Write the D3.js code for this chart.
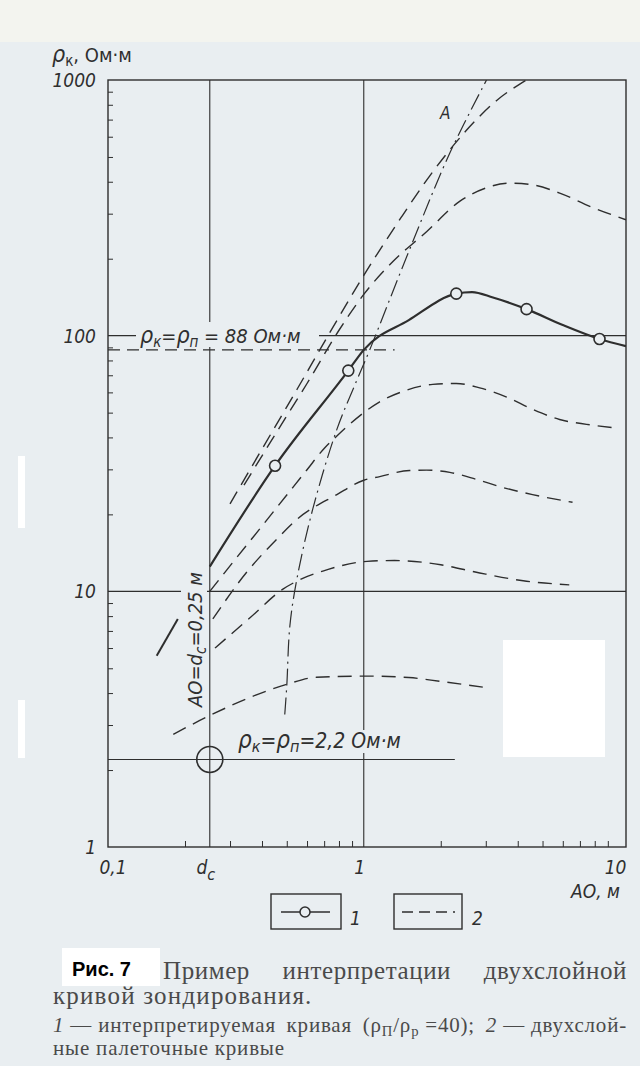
<!DOCTYPE html>
<html>
<head>
<meta charset="utf-8">
<script src="https://cdn.jsdelivr.net/npm/d3@7"></script>
<style>
body { margin: 0; background: #e9eef1; }
svg { display: block; }
.lbl { font-family: "Liberation Sans Narrow", "DejaVu Sans Condensed", "Liberation Sans", sans-serif; font-stretch: condensed; font-style: italic; fill: #2f2f2f; }
.cap { font-family: "Liberation Serif", "DejaVu Serif", serif; fill: #4a4a4a; }
</style>
</head>
<body>
<script>

// interpreted sounding curve (1) and its marked points
var curve1 = [[0.25, 12.5], [0.45, 31], [0.87, 73], [1.0, 88], [1.5, 115], [2.3, 146], [2.65, 148],
	[3.2, 141], [4.33, 127], [6.0, 110], [8.35, 97], [10.6, 91]];
var curve1Marks = [[0.45, 31], [0.87, 73], [2.3, 146], [4.33, 127], [8.35, 97]];
var curve1Tail = [[0.155, 5.6], [0.1875, 7.8]];

// two-layer palette curves (2)
var palTop = [[0.30, 22], [0.4, 36], [0.55, 62], [0.75, 106], [1.0, 172], [1.4, 290], [1.8, 418],
	[2.5, 630], [3.3, 830], [4.33, 1000]];
var pal380 = [[0.34, 26], [0.45, 41], [0.6, 65], [0.8, 105], [1.0, 145], [1.3, 195], [1.76, 255],
	[2.37, 335], [3.0, 378], [3.7, 395], [4.5, 390], [5.8, 362], [7.8, 318], [10.6, 284]];
var pal65 = [[0.25, 10], [0.31, 13.1], [0.4, 18], [0.5, 23.8], [0.6, 29.9], [0.7, 36.2], [0.785, 40.5],
	[1.0, 50], [1.15, 55], [1.42, 60.5], [1.86, 64.5], [2.3, 65], [2.84, 62.5], [3.62, 57.5],
	[4.57, 51.5], [5.83, 47], [7.43, 45], [9.4, 43.7]];
var pal30 = [[0.257, 7.8], [0.349, 11.9], [0.457, 16], [0.547, 19.1], [0.785, 23.9], [1.0, 27.2],
	[1.155, 28.1], [1.51, 29.7], [1.76, 29.8], [2.17, 29.2], [2.76, 27.4], [3.49, 25.5], [4.57, 23.9], [6.55, 22.3]];
var pal13 = [[0.262, 6.0], [0.36, 7.9], [0.483, 10.2], [0.562, 11.1], [0.692, 12], [1.03, 13.1],
	[1.32, 13.2], [2.0, 12.7], [2.84, 11.8], [4.2, 11.0], [6.36, 10.6]];
var pal5 = [[0.18, 2.76], [0.252, 3.28], [0.36, 3.85], [0.5, 4.33], [0.653, 4.61], [1.02, 4.66],
	[1.5, 4.6], [1.98, 4.45], [2.92, 4.22]];
var palettes = [palTop, pal380, pal65, pal30, pal13, pal5];

// locus line through point A (dash-dot)
var lineA = [[0.491, 3.3], [0.5, 4.26], [0.514, 7.3], [0.547, 11.1], [0.632, 21], [0.785, 43],
	[0.94, 67], [1.055, 88], [1.51, 217], [2.17, 518], [3.02, 1000]];

var dc = 0.25;
var rhoTop = 88, rhoTopTo = 1.32;
var rhoBase = 2.2, rhoBaseTo = 2.27;

var yTicks = [1, 10, 100, 1000];
var xTicks = [0.1, 0.25, 1, 10];
var gridX = [0.25, 1];
var gridY = [10, 100];

var width = 640,
	height = 1066,
	bg = "#e9eef1",
	ink = "#2e2e2e";

var svg = d3.select("body").append("svg")
	.attr("width", width)
	.attr("height", height);

svg.append("rect").attr("width", width).attr("height", height).attr("fill", bg);
svg.append("rect").attr("width", width).attr("height", 42).attr("fill", "#f3f4ef");
// scan patches
svg.append("rect").attr("x", 503).attr("y", 640).attr("width", 102).attr("height", 117).attr("fill", "#fff");
svg.append("rect").attr("x", 18).attr("y", 456).attr("width", 7).attr("height", 72).attr("fill", "#fff");
svg.append("rect").attr("x", 18).attr("y", 700).attr("width", 7).attr("height", 58).attr("fill", "#fff");

var x = d3.scaleLog().domain([0.1, 10.6]).range([108, 626]);
var y = d3.scaleLog().domain([1, 1000]).range([847, 80]);

svg.append("clipPath").attr("id", "plot")
	.append("rect")
	.attr("x", x(0.1)).attr("y", y(1000))
	.attr("width", x(10.6) - x(0.1)).attr("height", y(1) - y(1000));

// grid
svg.selectAll(".gx").data(gridX).enter().append("line")
	.attr("x1", function(d) { return x(d); }).attr("x2", function(d) { return x(d); })
	.attr("y1", y(1)).attr("y2", y(1000))
	.attr("stroke", ink).attr("stroke-width", 1.1);
svg.selectAll(".gy").data(gridY).enter().append("line")
	.attr("x1", x(0.1)).attr("x2", x(10.6))
	.attr("y1", function(d) { return y(d); }).attr("y2", function(d) { return y(d); })
	.attr("stroke", ink).attr("stroke-width", 1.1);

svg.append("line")
	.attr("x1", x(0.1)).attr("x2", x(rhoBaseTo))
	.attr("y1", y(rhoBase)).attr("y2", y(rhoBase))
	.attr("stroke", ink).attr("stroke-width", 1.1);
svg.append("line")
	.attr("x1", x(0.1)).attr("x2", x(rhoTopTo))
	.attr("y1", y(rhoTop)).attr("y2", y(rhoTop))
	.attr("stroke", ink).attr("stroke-width", 1.1)
	.attr("stroke-dasharray", "12,7");

// frame
svg.append("rect")
	.attr("x", x(0.1)).attr("y", y(1000))
	.attr("width", x(10.6) - x(0.1)).attr("height", y(1) - y(1000))
	.attr("fill", "none").attr("stroke", ink).attr("stroke-width", 1.4);

// minor ticks, pointing inwards
var yMinor = y.ticks().filter(function(d) { return yTicks.indexOf(d) < 0; });
svg.append("g")
	.attr("transform", "translate(" + x(0.1) + ",0)")
	.call(d3.axisRight(y).tickValues(yMinor).tickSize(5).tickFormat(""))
	.call(function(g) { g.select(".domain").remove(); g.selectAll("line").attr("stroke", ink); });

var xMinor = x.ticks().filter(function(d) { return [0.1, 1, 10].indexOf(d) < 0; });
svg.append("g")
	.attr("transform", "translate(0," + y(1) + ")")
	.call(d3.axisTop(x).tickValues(xMinor).tickSize(6).tickFormat(""))
	.call(function(g) { g.select(".domain").remove(); g.selectAll("line").attr("stroke", ink); });

// tick labels
svg.selectAll(".yl").data(yTicks).enter().append("text")
	.attr("class", "lbl")
	.attr("x", 96).attr("y", function(d) { return y(d) + 7; })
	.attr("text-anchor", "end")
	.style("font-size", "19px")
	.text(function(d) { return d; });

var xl = svg.selectAll(".xl").data(xTicks).enter().append("text")
	.attr("class", "lbl")
	.attr("x", function(d) { return x(d) + (d === 0.1 ? 5 : -4); })
	.attr("y", y(1) + 27)
	.attr("text-anchor", "middle")
	.style("font-size", "19px");
xl.filter(function(d) { return d !== dc; }).text(function(d) { return String(d).replace(".", ","); });
var dl = xl.filter(function(d) { return d === dc; });
dl.append("tspan").text("d");
dl.append("tspan").attr("dy", 6).style("font-size", "16px").text("c");

// axis titles
var yt = svg.append("text").attr("class", "lbl").attr("x", 52).attr("y", 62).style("font-size", "20px");
yt.append("tspan").style("font-size", "23px").text("ρ");
yt.append("tspan").attr("dy", 4).style("font-size", "15px").style("font-style", "normal").text("к");
yt.append("tspan").attr("dy", -4).style("font-style", "normal").text(", Ом·м");

svg.append("text").attr("class", "lbl")
	.attr("x", x(10.6) - 6).attr("y", 898)
	.attr("text-anchor", "end")
	.style("font-size", "19px")
	.text("АО, м");

// palette curves
var line = d3.line()
	.x(function(d) { return x(d[0]); })
	.y(function(d) { return y(d[1]); })
	.curve(d3.curveMonotoneX);

var plot = svg.append("g").attr("clip-path", "url(#plot)");

plot.selectAll(".pal").data(palettes).enter().append("path")
	.attr("d", line)
	.attr("fill", "none").attr("stroke", ink).attr("stroke-width", 1.4)
	.attr("stroke-dasharray", "14,8");

plot.append("path").datum(lineA)
	.attr("d", line.curve(d3.curveCatmullRom.alpha(0.5)))
	.attr("fill", "none").attr("stroke", ink).attr("stroke-width", 1.2)
	.attr("stroke-dasharray", "17,5,2,5");
line.curve(d3.curveMonotoneX);

plot.append("path").datum(curve1Tail)
	.attr("d", line)
	.attr("fill", "none").attr("stroke", ink).attr("stroke-width", 2);

plot.append("path").datum(curve1)
	.attr("d", line)
	.attr("fill", "none").attr("stroke", ink).attr("stroke-width", 2.2);

plot.selectAll(".mk").data(curve1Marks).enter().append("circle")
	.attr("cx", function(d) { return x(d[0]); })
	.attr("cy", function(d) { return y(d[1]); })
	.attr("r", 5.5)
	.attr("fill", bg).attr("stroke", ink).attr("stroke-width", 1.6);

svg.append("circle")
	.attr("cx", x(dc)).attr("cy", y(rhoBase)).attr("r", 13)
	.attr("fill", "none").attr("stroke", ink).attr("stroke-width", 1.6);

// annotations with a patch of paper behind them
function note(px, py, w, h) {
	svg.append("rect").attr("x", px).attr("y", py).attr("width", w).attr("height", h).attr("fill", bg);
}

note(136, 322, 183, 25);
var t88 = svg.append("text").attr("class", "lbl").attr("x", 140).attr("y", 343).style("font-size", "20px");
t88.append("tspan").style("font-size", "23px").text("ρ");
t88.append("tspan").attr("dy", 4).style("font-size", "15px").text("к");
t88.append("tspan").attr("dy", -4).text("=");
t88.append("tspan").style("font-size", "23px").text("ρ");
t88.append("tspan").attr("dy", 4).style("font-size", "15px").text("п");
t88.append("tspan").attr("dy", -4).text(" = 88 Ом·м");

note(234, 730, 180, 23);
var t22 = svg.append("text").attr("class", "lbl").attr("x", 238).attr("y", 748).style("font-size", "21px");
t22.append("tspan").style("font-size", "24px").text("ρ");
t22.append("tspan").attr("dy", 4).style("font-size", "16px").text("к");
t22.append("tspan").attr("dy", -4).text("=");
t22.append("tspan").style("font-size", "24px").text("ρ");
t22.append("tspan").attr("dy", 4).style("font-size", "16px").text("п");
t22.append("tspan").attr("dy", -4).text("=2,2 Ом·м");

note(181, 570, 26, 140);
var tdc = svg.append("text").attr("class", "lbl")
	.attr("transform", "translate(202,707) rotate(-90)")
	.style("font-size", "20px");
tdc.append("tspan").text("АО=d");
tdc.append("tspan").attr("dy", 4).style("font-size", "15px").text("с");
tdc.append("tspan").attr("dy", -4).text("=0,25 м");

svg.append("text").attr("class", "lbl")
	.attr("x", 440).attr("y", 119)
	.style("font-size", "17px")
	.text("A");

// legend
var lg = svg.append("g");
lg.append("rect").attr("x", 271).attr("y", 894).attr("width", 70).attr("height", 35)
	.attr("fill", "none").attr("stroke", ink).attr("stroke-width", 1.4);
lg.append("line").attr("x1", 281).attr("x2", 330).attr("y1", 912).attr("y2", 912)
	.attr("stroke", ink).attr("stroke-width", 1.6);
lg.append("circle").attr("cx", 305).attr("cy", 912).attr("r", 5)
	.attr("fill", bg).attr("stroke", ink).attr("stroke-width", 1.5);
lg.append("text").attr("class", "lbl").attr("x", 350).attr("y", 925).style("font-size", "19px").text("1");

lg.append("rect").attr("x", 394).attr("y", 894).attr("width", 68).attr("height", 35)
	.attr("fill", "none").attr("stroke", ink).attr("stroke-width", 1.4);
lg.append("line").attr("x1", 402).attr("x2", 455).attr("y1", 912).attr("y2", 912)
	.attr("stroke", ink).attr("stroke-width", 1.3).attr("stroke-dasharray", "11,6");
lg.append("text").attr("class", "lbl").attr("x", 472).attr("y", 925).style("font-size", "19px").text("2");

// caption
svg.append("rect").attr("x", 62).attr("y", 948).attr("width", 98).attr("height", 38).attr("fill", "#fff");
svg.append("text")
	.attr("x", 72).attr("y", 976)
	.style("font-family", "'Liberation Sans', Arial, sans-serif")
	.style("font-weight", "bold").style("font-size", "20px").attr("fill", "#000")
	.text("Рис. 7");

// a justified caption line: pieces spread evenly between left and right
function capLine(pieces, left, right, py, size, spacing) {
	var nodes = pieces.map(function(p) {
		var t = svg.append("text").attr("class", "cap").attr("y", py)
			.style("font-size", size + "px")
			.style("letter-spacing", spacing + "px");
		p.forEach(function(s) {
			var ts = t.append("tspan").text(s.t);
			if (s.it) ts.style("font-style", "italic");
			if (s.sub) ts.attr("dy", s.sub).style("font-size", (size * 0.7) + "px");
			if (s.up) ts.attr("dy", -s.up);
		});
		return t;
	});
	var widths = nodes.map(function(t) { return t.node().getComputedTextLength(); });
	var gap = nodes.length > 1 ? (right - left - d3.sum(widths)) / (nodes.length - 1) : 0;
	var cx = left;
	nodes.forEach(function(t, i) { t.attr("x", cx); cx += widths[i] + gap; });
}

capLine([[{t: "Пример"}], [{t: "интерпретации"}], [{t: "двухслойной"}]], 163, 627, 979, 25, 0.6);
capLine([[{t: "кривой зондирования."}]], 53, 627, 1004, 25, 1.2);
capLine([
	[{t: "1", it: true}, {t: " — интерпретируемая"}],
	[{t: "кривая"}],
	[{t: "(ρ"}, {t: "П", sub: 4}, {t: "/ρ", up: 4}, {t: "р", sub: 4}, {t: " =40);", up: 4}],
	[{t: "2", it: true}, {t: " — двухслой-"}]
], 53, 627, 1032, 21, 0.8);
capLine([[{t: "ные палеточные кривые"}]], 53, 627, 1055, 21, 0.8);

</script>
</body>
</html>
